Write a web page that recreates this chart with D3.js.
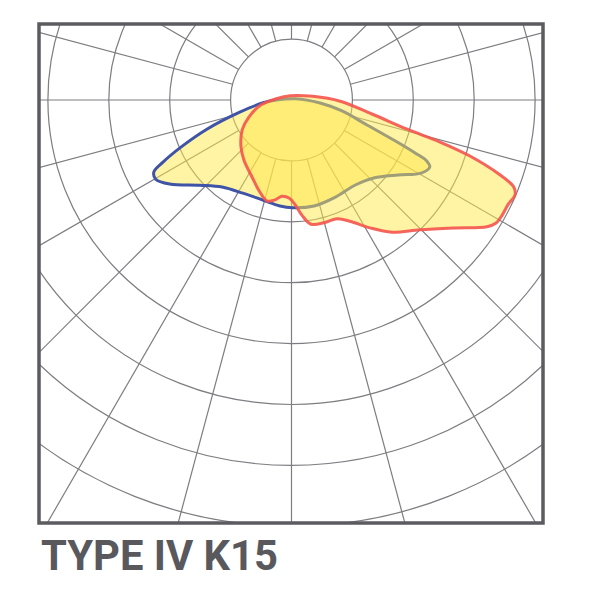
<!DOCTYPE html>
<html>
<head>
<meta charset="utf-8">
<script src="https://cdn.jsdelivr.net/npm/d3@7"></script>
<style>
  html, body { margin: 0; padding: 0; background: #ffffff; }
  svg { display: block; }
</style>
</head>
<body>
<svg id="chart" width="600" height="600"></svg>
<script>
// ---- data (units = grid ring spacing, origin at luminaire) ----
const title = "TYPE IV K15";
const ringValues = [1, 2, 3, 4, 5, 6, 7];
const radialAngles = d3.range(0, 360, 15);

// blue contour [x, y] (y positive = downward / street side)
const blueCurve = [
  [-0.48, 0.05], [-0.85, 0.20], [-1.39, 0.48], [-1.81, 0.77], [-2.11, 1.02],
  [-2.26, 1.18], [-2.23, 1.30], [-2.00, 1.38], [-1.50, 1.40], [-1.14, 1.43],
  [-0.80, 1.53], [-0.48, 1.64], [-0.19, 1.74], [0.02, 1.77], [0.37, 1.74],
  [0.73, 1.59], [1.04, 1.40], [1.35, 1.28], [1.75, 1.23], [2.13, 1.20],
  [2.27, 1.10], [2.22, 1.00], [2.03, 0.87], [1.70, 0.67], [1.24, 0.41],
  [0.83, 0.18], [0.47, 0.05], [0.07, -0.02], [-0.25, 0.00]
];

// red contour
const redCurve = [
  [-0.02, -0.07], [0.35, -0.06], [0.80, 0.02], [1.32, 0.23], [1.90, 0.48],
  [2.44, 0.69], [2.93, 0.92], [3.41, 1.22], [3.65, 1.43], [3.67, 1.56],
  [3.56, 1.71], [3.46, 1.89], [3.36, 2.02], [3.21, 2.08], [2.68, 2.10],
  [2.11, 2.13], [1.65, 2.17], [1.29, 2.10], [0.96, 1.99], [0.75, 1.95],
  [0.55, 2.01], [0.32, 2.04], [0.17, 1.89], [0.06, 1.72], [-0.04, 1.61],
  [-0.16, 1.58], [-0.27, 1.64], [-0.40, 1.66], [-0.52, 1.51], [-0.65, 1.26],
  [-0.78, 0.99], [-0.83, 0.76], [-0.81, 0.49], [-0.70, 0.28], [-0.50, 0.08],
  [-0.25, -0.02]
];

// ---- layout ----
const frame = { x0: 39, y0: 24, x1: 543, y1: 523 };
const cx = 291.5, cy = 100, unit = 60.9;

const x = d3.scaleLinear().domain([0, 1]).range([cx, cx + unit]);
const y = d3.scaleLinear().domain([0, 1]).range([cy, cy + unit]);
const r = d3.scaleLinear().domain([0, 1]).range([0, unit]);

const svg = d3.select("#chart");

svg.append("clipPath").attr("id", "frameClip")
  .append("rect")
  .attr("x", frame.x0).attr("y", frame.y0)
  .attr("width", frame.x1 - frame.x0).attr("height", frame.y1 - frame.y0);

const grid = svg.append("g").attr("clip-path", "url(#frameClip)");

// rings
grid.selectAll("circle.ring").data(ringValues).join("circle")
  .attr("class", "ring")
  .attr("cx", x(0)).attr("cy", y(0))
  .attr("r", d => r(d))
  .attr("fill", "none")
  .attr("stroke", "#7d7d82")
  .attr("stroke-width", 1.2);

// radial lines from first ring outward
const rMin = ringValues[0], rMax = 12;
grid.selectAll("line.spoke").data(radialAngles).join("line")
  .attr("class", "spoke")
  .attr("x1", a => x(rMin * Math.sin(a * Math.PI / 180)))
  .attr("y1", a => y(rMin * Math.cos(a * Math.PI / 180)))
  .attr("x2", a => x(rMax * Math.sin(a * Math.PI / 180)))
  .attr("y2", a => y(rMax * Math.cos(a * Math.PI / 180)))
  .attr("stroke", "#7d7d82")
  .attr("stroke-width", 1.2);

// contours
const line = d3.line()
  .x(d => x(d[0])).y(d => y(d[1]))
  .curve(d3.curveCatmullRomClosed.alpha(0.5));

const shapes = svg.append("g");
shapes.append("path")
  .attr("d", line(blueCurve))
  .attr("fill", "#ffe84a").attr("fill-opacity", 0.5)
  .attr("stroke", "#3f54a6").attr("stroke-width", 3)
  .attr("stroke-linejoin", "round");

shapes.append("path")
  .attr("d", line(redCurve))
  .attr("fill", "#ffe84a").attr("fill-opacity", 0.5)
  .attr("stroke", "#f4544c").attr("stroke-width", 3)
  .attr("stroke-opacity", 0.9)
  .attr("stroke-linejoin", "round");

// frame
svg.append("rect")
  .attr("x", frame.x0).attr("y", frame.y0)
  .attr("width", frame.x1 - frame.x0).attr("height", frame.y1 - frame.y0)
  .attr("fill", "none")
  .attr("stroke", "#5b5b60")
  .attr("stroke-width", 3.5);

// title
svg.append("text")
  .attr("x", 41).attr("y", 570)
  .attr("font-family", "Roboto, 'Liberation Sans', sans-serif")
  .attr("font-weight", "bold")
  .attr("font-size", 43)
  .attr("textLength", 237)
  .attr("lengthAdjust", "spacingAndGlyphs")
  .attr("fill", "#58585d")
  .text(title);
</script>
</body>
</html>
